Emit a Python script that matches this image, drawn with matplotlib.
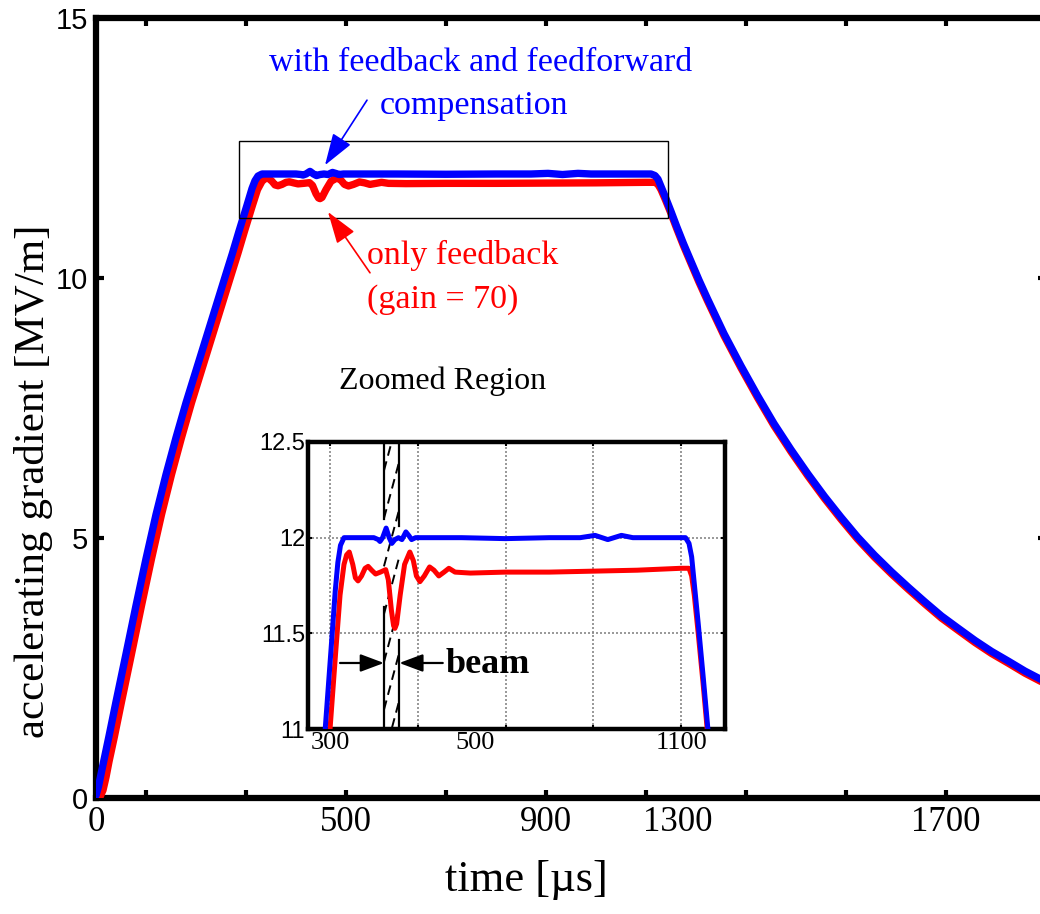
import matplotlib
matplotlib.use("Agg")
import matplotlib.pyplot as plt
from matplotlib.patches import Rectangle

# ---------------- data ----------------
t_blue = [0, 5, 12, 26, 40, 60, 80, 100, 120, 140, 160, 180, 200, 220, 240, 260, 273, 286,
          302, 312, 318, 324, 332, 360, 400,
          410, 414, 420, 428, 435, 441, 448, 456, 464, 473, 480, 486, 495, 520, 600,
          700, 800, 870, 904, 933, 964, 990, 1050, 1100, 1110, 1118, 1124, 1130, 1139,
          1150, 1161, 1175, 1190, 1206, 1223, 1256, 1290, 1323, 1356, 1390, 1424, 1457,
          1490, 1523, 1557, 1591, 1625, 1658, 1691, 1725, 1758, 1791, 1825, 1858, 1892, 1900]
v_blue = [0.05, 0.22, 0.55, 1.19, 1.85, 2.77, 3.7, 4.6, 5.45, 6.22, 6.93, 7.6, 8.22, 8.84, 9.46, 10.08, 10.48, 10.9,
          11.4, 11.72, 11.87, 11.96, 12.0, 12.0, 12.0,
          11.99, 11.98, 12.0, 12.05, 12.0, 11.97, 11.99, 12.0, 11.99, 12.03, 12.01, 11.99, 12.0, 12.0, 12.0,
          11.995, 12.0, 12.0, 12.012, 11.99, 12.012, 12.0, 12.0, 12.0, 12.0, 11.97, 11.9, 11.76, 11.55,
          11.28, 11.0, 10.66, 10.32, 9.96, 9.60, 8.93, 8.31, 7.74, 7.20, 6.70, 6.23, 5.80,
          5.40, 5.02, 4.67, 4.35, 4.05, 3.77, 3.50, 3.26, 3.03, 2.82, 2.63, 2.44, 2.27, 2.23]

t_red = [0, 8, 14, 20, 26, 37, 51, 71, 91, 111, 131, 151, 171, 191, 211, 231, 251, 271, 284, 297,
         313, 323, 332, 338, 344, 352,
         358, 364, 372, 380, 387, 395, 404, 415, 427, 433, 440, 445, 448, 452, 460, 470,
         482, 490, 497, 505, 515, 527, 537, 548, 560, 571, 585, 620, 700, 800, 900, 1000,
         1100, 1118, 1124, 1130, 1139, 1150, 1161, 1175, 1190, 1206, 1223, 1256, 1290, 1323,
         1356, 1390, 1424, 1457, 1490, 1523, 1557, 1591, 1625, 1658, 1691, 1725, 1758, 1791,
         1825, 1858, 1892, 1900]
v_red = [0.0, 0.02, 0.15, 0.4, 0.7, 1.19, 1.85, 2.77, 3.7, 4.6, 5.45, 6.22, 6.93, 7.6, 8.22, 8.84, 9.46, 10.08, 10.48, 10.9,
         11.4, 11.7, 11.86, 11.91, 11.925, 11.86,
         11.79, 11.774, 11.8, 11.84, 11.85, 11.83, 11.81, 11.82, 11.833, 11.78, 11.62, 11.54, 11.526, 11.55, 11.7, 11.86,
         11.925, 11.88, 11.80, 11.77, 11.80, 11.847, 11.83, 11.80, 11.82, 11.84, 11.82, 11.815, 11.82, 11.82, 11.825, 11.83,
         11.84, 11.84, 11.8, 11.7, 11.5, 11.24, 10.96, 10.62, 10.28, 9.92, 9.56, 8.89, 8.27, 7.70,
         7.16, 6.66, 6.19, 5.76, 5.36, 4.98, 4.63, 4.31, 4.01, 3.73, 3.46, 3.22, 2.99, 2.78,
         2.59, 2.40, 2.23, 2.19]

beam_start, beam_end = 423, 458

main_xticks = [100, 300, 500, 700, 900, 1100, 1300, 1500, 1700]
main_xticklabels = ["", "", "500", "", "900", "", "", "", "1700"]
main_xlabel_pos = [0, 1163]
main_xlabel_txt = ["0", "1300"]
main_yticks = [0, 5, 10, 15]
main_yticklabels = ["0", "5", "10", "15"]

inset_xticks = [300, 500, 700, 900, 1100]
inset_xticklabels = ["300", "", "", "", "1100"]
inset_xlabel_pos = [630]
inset_xlabel_txt = ["500"]
inset_yticks = [11, 11.5, 12, 12.5]
inset_yticklabels = ["11", "11.5", "12", "12.5"]

# ---------------- figure ----------------
SERIF = ["Liberation Serif", "DejaVu Serif"]
SANS = ["Liberation Sans", "DejaVu Sans"]
BLUE, RED = "#0000ff", "#ff0000"

W, H = 1040, 914
fig = plt.figure(figsize=(W / 100, H / 100), dpi=100)


def fpos(l, t, r, b):
    return [l / W, 1 - b / H, (r - l) / W, (b - t) / H]


ax = fig.add_axes(fpos(96, 18, 1046, 798))
ax.set_xlim(0, 1900)
ax.set_ylim(0, 15)
ax.plot(t_red, v_red, color=RED, lw=5.3, solid_joinstyle="round", solid_capstyle="round", zorder=3)
ax.plot(t_blue, v_blue, color=BLUE, lw=5.3, solid_joinstyle="round", solid_capstyle="round", zorder=4)

for s in ax.spines.values():
    s.set_linewidth(4.5)
ax.tick_params(which="major", direction="in", length=6, width=3, top=True, right=True)
ax.tick_params(which="minor", length=0, top=False, right=False)
ax.tick_params(axis="x", which="both", pad=6)
ax.tick_params(axis="y", which="both", pad=6)
ax.set_xticks(main_xticks)
ax.set_xticklabels(main_xticklabels, fontfamily=SERIF, fontsize=25)
ax.set_xticks(main_xlabel_pos, minor=True)
ax.set_xticklabels(main_xlabel_txt, minor=True, fontfamily=SERIF, fontsize=25)
ax.set_yticks(main_yticks)
ax.set_yticklabels(main_yticklabels, fontfamily=SANS, fontsize=21)

ax.set_xlabel("time [\u00b5s]", fontfamily=SERIF, fontsize=32, va="center")
ax.xaxis.set_label_coords((526 - 96) / 950, -(880 - 798) / 780)
ax.set_ylabel("accelerating gradient [MV/m]", fontfamily=SERIF, fontsize=31, va="center")
ax.yaxis.set_label_coords(-(96 - 34) / 950, 1 - (481 - 18) / 780)

# zoom rectangle
ax.add_patch(Rectangle((286, 11.15), 1144 - 286, 12.63 - 11.15, fill=False, lw=1.0,
                       edgecolor="black", zorder=5))

# annotations
ax.text(770, 14.13, "with feedback and feedforward", color=BLUE, fontfamily=SERIF,
        fontsize=24.5, ha="center", va="center")
ax.text(756, 13.31, "compensation", color=BLUE, fontfamily=SERIF, fontsize=24.5,
        ha="center", va="center")
ax.text(734, 10.44, "only feedback", color=RED, fontfamily=SERIF, fontsize=24.5,
        ha="center", va="center")
ax.text(694, 9.58, "(gain = 70)", color=RED, fontfamily=SERIF, fontsize=24.5,
        ha="center", va="center")
ax.text(694, 8.02, "Zoomed Region", color="black", fontfamily=SERIF, fontsize=23,
        ha="center", va="center")
ax.annotate("", xy=(458, 12.17), xytext=(542, 13.42),
            arrowprops=dict(arrowstyle="-|>,head_length=0.9,head_width=0.3", color=BLUE,
                            lw=1.2, mutation_scale=22, shrinkA=0, shrinkB=0), zorder=6)
ax.annotate("", xy=(464, 11.27), xytext=(548, 10.10),
            arrowprops=dict(arrowstyle="-|>,head_length=0.9,head_width=0.3", color=RED,
                            lw=1.2, mutation_scale=22, shrinkA=0, shrinkB=0), zorder=6)

# ---------------- inset ----------------
ax2 = fig.add_axes(fpos(308, 442, 725, 729))
ax2.set_xlim(250, 1200)
ax2.set_ylim(11, 12.5)
for s in ax2.spines.values():
    s.set_linewidth(3.2)
ax2.set_xticks(inset_xticks)
ax2.set_xticklabels(inset_xticklabels, fontfamily=SERIF, fontsize=19)
ax2.set_xticks(inset_xlabel_pos, minor=True)
ax2.set_xticklabels(inset_xlabel_txt, minor=True, fontfamily=SERIF, fontsize=19)
ax2.set_yticks(inset_yticks)
ax2.set_yticklabels(inset_yticklabels, fontfamily=SANS, fontsize=17)
ax2.tick_params(which="major", direction="in", length=3, width=1.5, top=True, right=True, pad=2)
ax2.tick_params(which="minor", length=0, top=False, right=False, pad=2)
ax2.grid(True, which="major", linestyle=(0, (1.2, 1.2)), color="#888888", lw=1.2)

# beam marker
ax2.plot([beam_start, beam_start], [12.5, 12.10], color="black", lw=1.6, zorder=2)
ax2.plot([beam_start, beam_start], [11.64, 11.0], color="black", lw=1.6, zorder=2)
ax2.plot([beam_end, beam_end], [12.5, 12.06], color="black", lw=1.6, zorder=2)
ax2.plot([beam_end, beam_end], [11.465, 11.0], color="black", lw=1.6, zorder=2)
for y0 in [10.85, 11.1, 11.35, 11.6, 11.85, 12.1, 12.35]:
    ax2.plot([beam_start, beam_end], [y0, y0 + 0.3], color="black", lw=1.4,
             linestyle=(0, (5, 3)), zorder=2, clip_on=True)
ax2.annotate("", xy=(beam_start, 11.345), xytext=(323, 11.345),
             arrowprops=dict(arrowstyle="-|>,head_length=0.8,head_width=0.3", color="black",
                             lw=1.6, mutation_scale=18, shrinkA=0, shrinkB=0))
ax2.annotate("", xy=(beam_end, 11.345), xytext=(557, 11.345),
             arrowprops=dict(arrowstyle="-|>,head_length=0.8,head_width=0.3", color="black",
                             lw=1.6, mutation_scale=18, shrinkA=0, shrinkB=0))
ax2.text(564, 11.293, "beam", fontfamily=SERIF, fontweight="bold", fontsize=26,
         ha="left", va="baseline")

ax2.plot(t_red, v_red, color=RED, lw=3.6, solid_joinstyle="round", zorder=3)
ax2.plot(t_blue, v_blue, color=BLUE, lw=3.6, solid_joinstyle="round", zorder=4)

fig.savefig("out.png", dpi=100)
